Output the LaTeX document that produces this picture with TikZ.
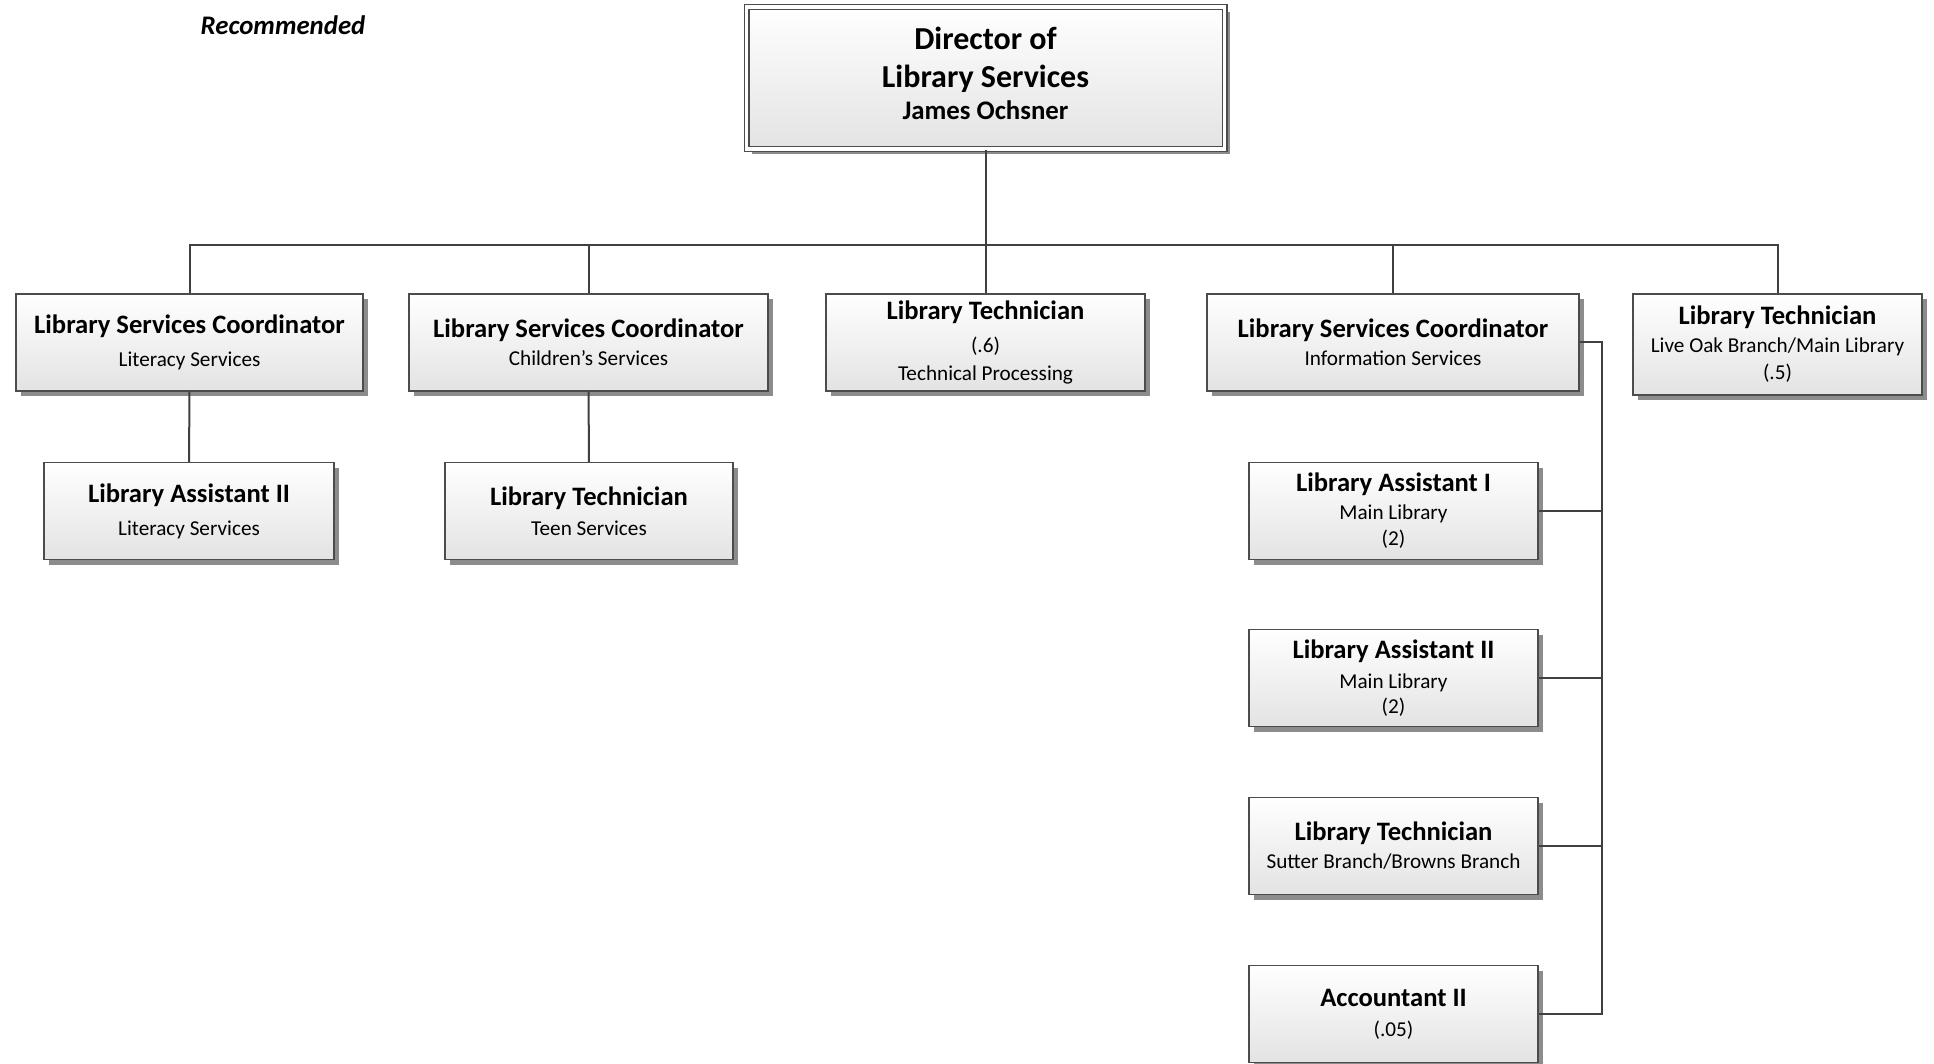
\documentclass[tikz,border=0pt]{standalone}
\usepackage{fontspec}
\setmainfont{Carlito}
\usetikzlibrary{positioning,shadows}

\newcommand\posttitle[1]{{\fontsize{13.3}{14}\selectfont\bfseries #1}}
\newcommand\postsub[1]{{\fontsize{10.6}{14}\selectfont #1}}

\tikzset{
  post/.style={draw=black!70, line width=0.6pt, top color=white, bottom color=black!11,
    drop shadow={shadow xshift=2.5pt, shadow yshift=-2.5pt, fill=black!45, opacity=1},
    align=center, inner sep=0pt, minimum height=48.5pt, font=\fontsize{10.6}{14}\selectfont},
  link/.style={draw=black!75, line width=1pt},
}

\begin{document}
\begin{tikzpicture}[x=0.5pt, y=-0.5pt]
  \useasboundingbox (0,0) rectangle (1934,1064);

  \node[font=\fontsize{13.4}{14}\selectfont\bfseries\itshape] (note) at (283,25) {Recommended};

  \node[post, double=white, double distance=1.8pt, minimum width=239pt, minimum height=71pt,
        font=\fontsize{13.4}{17}\selectfont\bfseries] (director) at (985.5,78)
    {\fontsize{16}{17}\selectfont Director of\\[2pt]\fontsize{16}{17}\selectfont Library Services\\[-0.8pt]\fontsize{13.4}{17}\selectfont James Ochsner\\[-12pt]{}};

  % first row
  \node[post, minimum width=173.5pt] (litcoord) at (189.5,342.5)
    {\posttitle{Library Services Coordinator}\\[2.5pt]\postsub{Literacy Services}};
  \node[post, minimum width=179.5pt] (kidcoord) at (588.5,342.5)
    {\posttitle{Library Services Coordinator}\\\postsub{Children’s Services}};
  \node[post, minimum width=159.5pt] (techproc) at (985.5,342.5)
    {\posttitle{Library Technician}\\[2.5pt]\postsub{(.6)}\\\postsub{Technical Processing}};
  \node[post, minimum width=186pt] (infocoord) at (1393,342.5)
    {\posttitle{Library Services Coordinator}\\\postsub{Information Services}};
  \node[post, minimum width=144.5pt, minimum height=50.5pt] (liveoak) at (1777.5,344.5)
    {\posttitle{Library Technician}\\\postsub{Live Oak Branch/Main Library}\\[-0.5pt]\postsub{(.5)}};

  % second row
  \node[post, minimum width=145pt] (litasst) at (189,511)
    {\posttitle{Library Assistant II}\\[2.5pt]\postsub{Literacy Services}};
  \node[post, minimum width=144pt] (teentech) at (589,511)
    {\posttitle{Library Technician}\\[1pt]\postsub{Teen Services}};

  % information services column
  \node[post, minimum width=144.5pt] (asstone) at (1393.5,511)
    {\posttitle{Library Assistant I}\\\postsub{Main Library}\\[-1pt]\postsub{(2)}};
  \node[post, minimum width=144.5pt] (assttwo) at (1393.5,678)
    {\posttitle{Library Assistant II}\\[1pt]\postsub{Main Library}\\[-1.5pt]\postsub{(2)}};
  \node[post, minimum width=144.5pt] (branchtech) at (1393.5,846)
    {\posttitle{Library Technician}\\\postsub{Sutter Branch/Browns Branch}};
  \node[post, minimum width=144.5pt] (accountant) at (1393.5,1014)
    {\posttitle{Accountant II}\\[1pt]\postsub{(.05)}};

  \coordinate (bus) at (0,245);
  \coordinate (spine) at (1602,0);

  \draw[link] (director.south) -- (director |- bus);
  \draw[link] (litcoord.north) -- (litcoord |- bus) -- (liveoak |- bus) -- (liveoak.north);
  \draw[link] (kidcoord.north) -- (kidcoord |- bus);
  \draw[link] (techproc.north) -- (techproc |- bus);
  \draw[link] (infocoord.north) -- (infocoord |- bus);

  \draw[link] (litcoord) -- (litasst);
  \draw[link] (kidcoord) -- (teentech);

  \draw[link] (infocoord.east) -- (infocoord.east -| spine) -- (accountant.east -| spine) -- (accountant.east);
  \draw[link] (asstone.east) -- (asstone.east -| spine);
  \draw[link] (assttwo.east) -- (assttwo.east -| spine);
  \draw[link] (branchtech.east) -- (branchtech.east -| spine);
\end{tikzpicture}
\end{document}
